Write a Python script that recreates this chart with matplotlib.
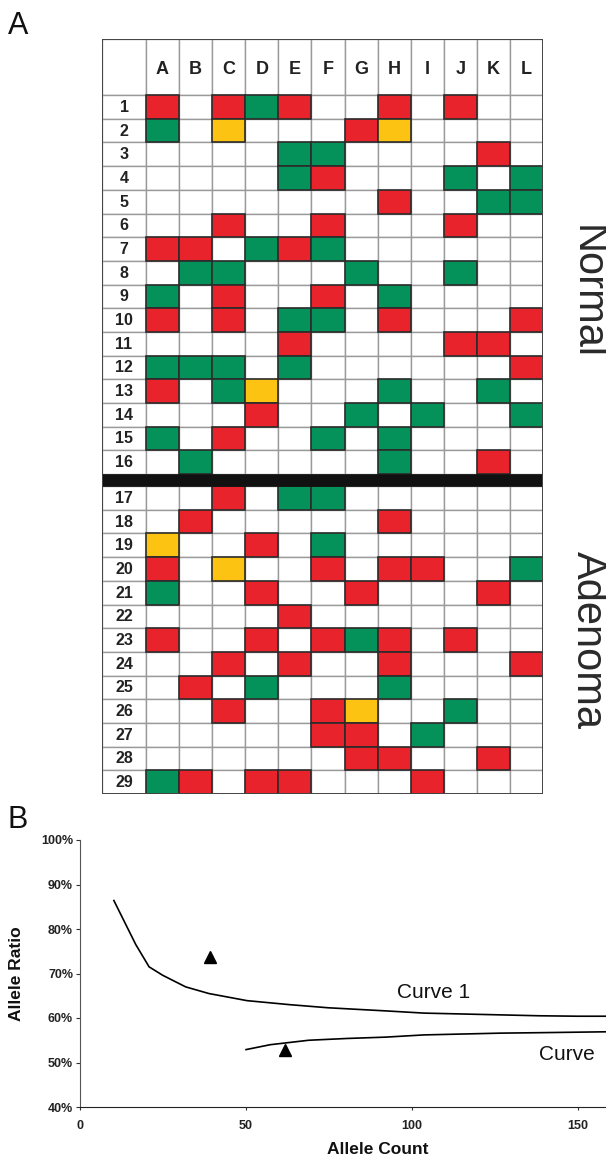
import matplotlib
matplotlib.use("Agg")
import matplotlib.pyplot as plt
from matplotlib.patches import Rectangle

plt.rcParams['font.family'] = ['Liberation Sans', 'DejaVu Sans']

# panel A data: one string per sample row, one char per locus (A..L)
# R = red, G = green, Y = yellow, . = blank
col_labels = ['A', 'B', 'C', 'D', 'E', 'F', 'G', 'H', 'I', 'J', 'K', 'L']
normal_ids = list(range(1, 17))
normal_rows = [
    "R.RGR..R.R..",
    "G.Y...RY....",
    "....GG....R.",
    "....GR...G.G",
    ".......R..GG",
    "..R..R...R..",
    "RR.GRG......",
    ".GG...G..G..",
    "G.R..R.G....",
    "R.R.GG.R...R",
    "....R....RR.",
    "GGG.G......R",
    "R.GY...G..G.",
    "...R..G.G..G",
    "G.R..G.G....",
    ".G.....G..R.",
]
adenoma_ids = list(range(17, 30))
adenoma_rows = [
    "..R.GG......",
    ".R.....R....",
    "Y..R.G......",
    "R.Y..R.RR..G",
    "G..R..R...R.",
    "....R.......",
    "R..R.RGR.R..",
    "..R.R..R...R",
    ".R.G...G....",
    "..R..RY..G..",
    ".....RR.G...",
    "......RR..R.",
    "GR.RR...R...",
]

# panel B data
curve1_x = [10.2, 16.8, 20.8, 24.9, 31.8, 38.8, 50.3, 63.1, 74.7, 92.0, 103.6, 115.2, 126.7, 138.3, 149.9, 158.4]
curve1_y = [86.4, 76.5, 71.5, 69.6, 67.0, 65.5, 63.9, 63.0, 62.3, 61.6, 61.1, 60.9, 60.7, 60.5, 60.4, 60.4]
curve2_x = [50.0, 57.3, 68.9, 80.4, 92.0, 103.6, 115.2, 126.7, 138.3, 158.4]
curve2_y = [52.9, 54.0, 55.0, 55.4, 55.7, 56.2, 56.4, 56.6, 56.7, 56.9]
point_x = [39.0, 61.7]
point_y = [73.8, 52.9]
y_ticks = [40, 50, 60, 70, 80, 90, 100]
x_ticks = [0, 50, 100, 150]

colors = {'R': '#e8232b', 'G': '#05925a', 'Y': '#fcc313'}

W, H = 606, 1159
fig = plt.figure(figsize=(W / 100, H / 100), dpi=100)

# ---------- panel A: grid ----------
grid_l, grid_r, grid_t, grid_b = 102, 543, 39, 794
axg = fig.add_axes([grid_l / W, 1 - grid_b / H, (grid_r - grid_l) / W, (grid_b - grid_t) / H])
lab_w = 1.33
head_h = 2.37
bar_h = 0.51
total_w = lab_w + len(col_labels)
total_h = head_h + len(normal_rows) + bar_h + len(adenoma_rows)
axg.set_xlim(0, total_w)
axg.set_ylim(total_h, 0)
axg.axis('off')

grey = '#9a9a9a'
dark = '#2b2b2b'

def cell(x, y, w, h, fc, ec, lw, z):
    axg.add_patch(Rectangle((x, y), w, h, facecolor=fc, edgecolor=ec, lw=lw, zorder=z))

# header row
cell(0, 0, lab_w, head_h, 'white', grey, 1.0, 1)
for j, c in enumerate(col_labels):
    cell(lab_w + j, 0, 1, head_h, 'white', grey, 1.0, 1)
    axg.text(lab_w + j + 0.5, head_h * 0.55, c, ha='center', va='center',
             fontsize=13, fontweight='bold', color='#222222')

def draw_block(ids, rows, y_start):
    for i, (num, row) in enumerate(zip(ids, rows)):
        y = y_start + i
        cell(0, y, lab_w, 1, 'white', grey, 1.0, 1)
        axg.text(lab_w / 2, y + 0.52, str(num), ha='center', va='center',
                 fontsize=11.5, fontweight='bold', color='#222222')
        for j, ch in enumerate(row):
            if ch == '.':
                cell(lab_w + j, y, 1, 1, 'white', grey, 1.0, 1)
        for j, ch in enumerate(row):
            if ch != '.':
                cell(lab_w + j, y, 1, 1, colors[ch], dark, 1.2, 2)

draw_block(normal_ids, normal_rows, head_h)
bar_y = head_h + len(normal_rows)
cell(0, bar_y, total_w, bar_h, '#111111', '#111111', 0.5, 3)
draw_block(adenoma_ids, adenoma_rows, bar_y + bar_h)
cell(0, 0, total_w, total_h, 'none', '#444444', 1.4, 4)

fig.text(8 / W, 1 - 26 / H, 'A', fontsize=22, ha='left', va='center', color='#111111')
fig.text(587 / W, 1 - 292 / H, 'Normal', fontsize=30, rotation=-90,
         ha='center', va='center', color='#2a2a2a')
fig.text(588 / W, 1 - 640 / H, 'Adenoma', fontsize=30, rotation=-90,
         ha='center', va='center', color='#2a2a2a')

# ---------- panel B: allele ratio ----------
fig.text(7 / W, 1 - 820 / H, 'B', fontsize=22, ha='left', va='center', color='#111111')
ax = fig.add_axes([80 / W, 1 - 1107 / H, (W - 80) / W, (1107 - 840) / H])
ax.plot(curve1_x, curve1_y, color='black', lw=1.2)
ax.plot(curve2_x, curve2_y, color='black', lw=1.2)
ax.plot(point_x, point_y, linestyle='none', marker='^', color='black', markersize=8)
ax.set_xlim(0, 158.4)
ax.set_ylim(40, 100)
ax.set_yticks(y_ticks)
ax.set_yticklabels(['%d%%' % v for v in y_ticks])
ax.set_xticks(x_ticks)
ax.spines['top'].set_visible(False)
ax.spines['right'].set_visible(False)
ax.spines['left'].set_color('#555555')
ax.spines['bottom'].set_color('#222222')
ax.tick_params(axis='y', length=3, pad=2, labelsize=9, colors='#333333')
ax.tick_params(axis='x', length=2.5, pad=7, labelsize=9, colors='#333333')
for lab in ax.get_xticklabels() + ax.get_yticklabels():
    lab.set_fontweight('bold')
    lab.set_color('#222222')

ax.text(106.6, 65.8, 'Curve 1', fontsize=15, ha='center', va='center', color='#111111')
ax.text(138.3, 51.7, 'Curve', fontsize=15, ha='left', va='center', color='#111111')

fig.text(17 / W, 1 - 974 / H, 'Allele Ratio', rotation=90, fontsize=12.5,
         fontweight='bold', ha='center', va='center', color='#111111')
fig.text(378 / W, 1 - 1150 / H, 'Allele Count', fontsize=12.5,
         fontweight='bold', ha='center', va='center', color='#111111')

fig.savefig('out.png', dpi=100)
